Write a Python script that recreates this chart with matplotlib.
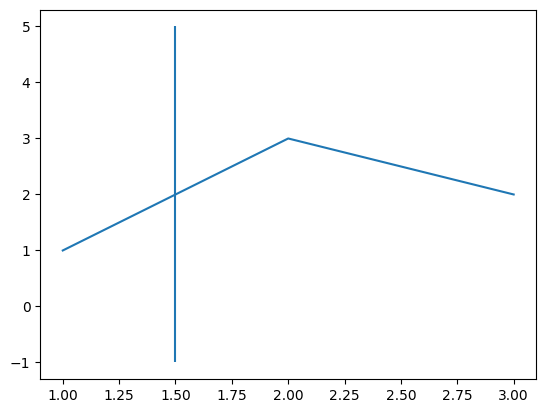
import matplotlib
matplotlib.use("Agg")
import matplotlib.pyplot as plt

x = [1, 2, 3]
y = [1, 3, 2]
vline_x = 1.5
vline_ymin = -1
vline_ymax = 5

fig, ax = plt.subplots()
ax.plot(x, y)
ax.vlines(vline_x, vline_ymin, vline_ymax)

fig.savefig("out.png", bbox_inches="tight")
